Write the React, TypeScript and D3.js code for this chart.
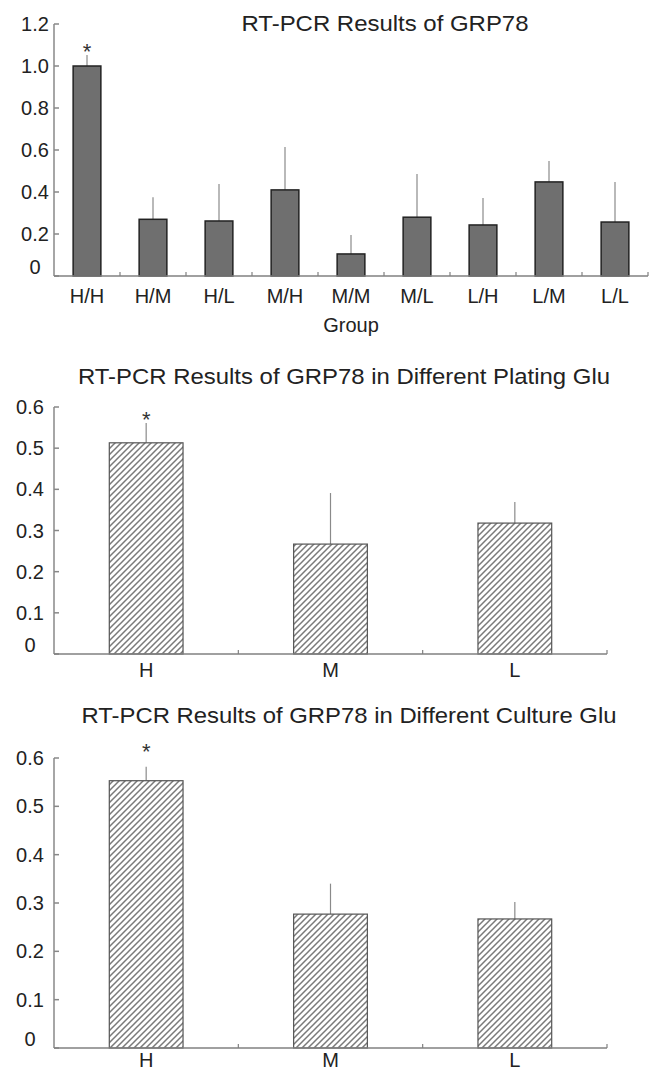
import React, { useEffect, useRef } from 'react';
import * as d3 from 'd3';

// values
const groups = ['H/H', 'H/M', 'H/L', 'M/H', 'M/M', 'M/L', 'L/H', 'L/M', 'L/L'];
const groupMeans = [1.0, 0.27, 0.262, 0.41, 0.105, 0.28, 0.243, 0.448, 0.257];
const groupSd = [0.052, 0.105, 0.176, 0.204, 0.09, 0.206, 0.128, 0.1, 0.191];
const groupSig = [true, false, false, false, false, false, false, false, false];
const groupTicks = [0, 0.2, 0.4, 0.6, 0.8, 1.0, 1.2];

const glu = ['H', 'M', 'L'];
const platingMeans = [0.513, 0.267, 0.318];
const platingSd = [0.048, 0.124, 0.051];
const cultureMeans = [0.553, 0.277, 0.267];
const cultureSd = [0.029, 0.063, 0.035];
const gluSig = [true, false, false];
const gluTicks = [0, 0.1, 0.2, 0.3, 0.4, 0.5, 0.6];

const FONT = '"Liberation Sans", Arial, sans-serif';

const App = () => {
  const svgRef = useRef(null);

  useEffect(() => {
    document.body.style.margin = '0';
    const svg = d3.select(svgRef.current);
    svg.selectAll('*').remove();

    // hatch pattern for the lower two charts
    const pat = svg.append('defs').append('pattern')
      .attr('id', 'hatch')
      .attr('patternUnits', 'userSpaceOnUse')
      .attr('width', 6)
      .attr('height', 6);
    pat.append('rect').attr('width', 6).attr('height', 6).attr('fill', '#fff');
    pat.append('path')
      .attr('d', 'M0,6 L6,0 M-1.5,1.5 L1.5,-1.5 M4.5,7.5 L7.5,4.5')
      .attr('stroke', '#7a7a7a')
      .attr('stroke-width', 1.5);

    const drawChart = (cfg) => {
      const g = svg.append('g');

      const x = d3.scaleBand()
        .domain(cfg.cats)
        .range([cfg.left, cfg.right])
        .paddingInner(cfg.pad)
        .paddingOuter(cfg.pad / 2);

      const y = d3.scaleLinear()
        .domain(cfg.domain)
        .range([cfg.bottom, cfg.top]);

      // title
      g.append('text')
        .attr('x', cfg.titleX)
        .attr('y', cfg.titleY)
        .attr('text-anchor', 'middle')
        .attr('font-family', FONT)
        .attr('font-size', 22)
        .attr('textLength', cfg.titleW)
        .attr('lengthAdjust', 'spacingAndGlyphs')
        .attr('fill', '#222')
        .text(cfg.title);

      // y axis
      g.append('line')
        .attr('x1', cfg.left).attr('x2', cfg.left)
        .attr('y1', y(cfg.domain[1])).attr('y2', cfg.bottom)
        .attr('stroke', '#888').attr('stroke-width', 1.5);

      cfg.ticks.forEach(t => {
        g.append('line')
          .attr('x1', cfg.left).attr('x2', cfg.left + 5)
          .attr('y1', y(t)).attr('y2', y(t))
          .attr('stroke', '#888').attr('stroke-width', 1.5);
        g.append('text')
          .attr('x', cfg.labelX)
          .attr('y', y(t) + (t === 0 ? -2 : 7))
          .attr('text-anchor', 'middle')
          .attr('font-family', FONT)
          .attr('font-size', 20)
          .attr('fill', '#222')
          .text(t === 0 ? '0' : d3.format('.1f')(t));
      });

      // bars
      cfg.cats.forEach((c, i) => {
        const cx = x(c) + x.bandwidth() / 2;
        const top = y(cfg.means[i]);
        const errTop = y(cfg.means[i] + cfg.sd[i]);

        g.append('line')
          .attr('x1', cx).attr('x2', cx)
          .attr('y1', errTop).attr('y2', top)
          .attr('stroke', '#8a8a8a').attr('stroke-width', 1.2);

        g.append('rect')
          .attr('x', x(c))
          .attr('y', top)
          .attr('width', x.bandwidth())
          .attr('height', cfg.bottom - top)
          .attr('fill', cfg.fill)
          .attr('stroke', cfg.stroke)
          .attr('stroke-width', cfg.strokeWidth);

        if (cfg.sig[i]) {
          g.append('text')
            .attr('x', cx)
            .attr('y', errTop - cfg.starGap + 4)
            .attr('text-anchor', 'middle')
            .attr('font-family', FONT)
            .attr('font-size', 22)
            .attr('fill', '#333')
            .text('*');
        }

        g.append('text')
          .attr('x', cx)
          .attr('y', cfg.xLabelY)
          .attr('text-anchor', 'middle')
          .attr('font-family', FONT)
          .attr('font-size', 20)
          .attr('fill', '#222')
          .text(c);
      });

      // x axis
      g.append('line')
        .attr('x1', cfg.left).attr('x2', cfg.right)
        .attr('y1', cfg.bottom).attr('y2', cfg.bottom)
        .attr('stroke', '#808080').attr('stroke-width', 1.5);

      const step = x.step();
      cfg.cats.forEach((c, i) => {
        const tx = cfg.left + step * (i + 1);
        g.append('line')
          .attr('x1', tx).attr('x2', tx)
          .attr('y1', cfg.bottom).attr('y2', cfg.bottom - 4)
          .attr('stroke', '#808080').attr('stroke-width', 1.2);
      });

      if (cfg.xTitle) {
        g.append('text')
          .attr('x', (cfg.left + cfg.right) / 2)
          .attr('y', cfg.xTitleY)
          .attr('text-anchor', 'middle')
          .attr('font-family', FONT)
          .attr('font-size', 20)
          .attr('fill', '#222')
          .text(cfg.xTitle);
      }
    };

    drawChart({
      cats: groups, means: groupMeans, sd: groupSd, sig: groupSig, ticks: groupTicks,
      domain: [0, 1.2], left: 54, right: 648, top: 24, bottom: 276, pad: 0.58,
      fill: '#6f6f6f', stroke: '#222', strokeWidth: 1.5,
      title: 'RT-PCR Results of GRP78', titleX: 385, titleY: 31, titleW: 287,
      labelX: 35, xLabelY: 303, starGap: 0, xTitle: 'Group', xTitleY: 332
    });

    drawChart({
      cats: glu, means: platingMeans, sd: platingSd, sig: gluSig, ticks: gluTicks,
      domain: [0, 0.6], left: 54, right: 607, top: 407, bottom: 654, pad: 0.6,
      fill: 'url(#hatch)', stroke: '#555', strokeWidth: 1.2,
      title: 'RT-PCR Results of GRP78 in Different Plating Glu', titleX: 344, titleY: 384, titleW: 532,
      labelX: 30, xLabelY: 677, starGap: 0
    });

    drawChart({
      cats: glu, means: cultureMeans, sd: cultureSd, sig: gluSig, ticks: gluTicks,
      domain: [0, 0.6], left: 54, right: 607, top: 758, bottom: 1048, pad: 0.6,
      fill: 'url(#hatch)', stroke: '#555', strokeWidth: 1.2,
      title: 'RT-PCR Results of GRP78 in Different Culture Glu', titleX: 349, titleY: 723, titleW: 535,
      labelX: 30, xLabelY: 1067, starGap: 12
    });
  });

  return (
    <svg ref={svgRef} width={654} height={1070} style={{ display: 'block', background: '#fff' }}></svg>
  );
};

export default App;
